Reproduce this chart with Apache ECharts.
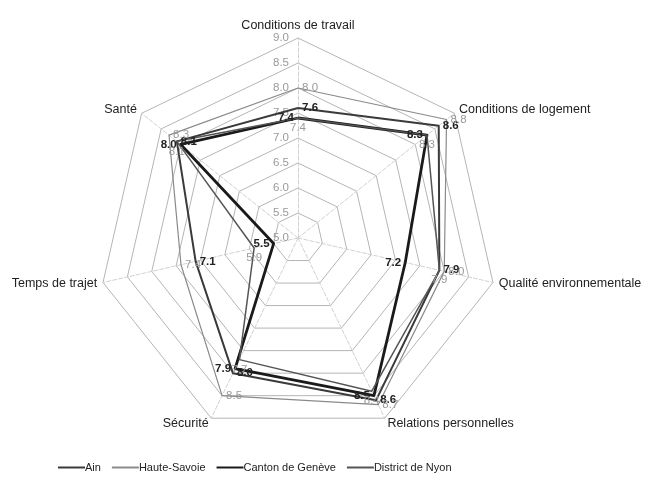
<!DOCTYPE html>
<html>
<head>
<meta charset="utf-8">
<script src="https://cdn.jsdelivr.net/npm/echarts@6/dist/echarts.min.js"></script>
<style>html,body{margin:0;padding:0;background:#fff}#c{width:653px;height:483px}</style>
</head>
<body>
<div id="c"></div>
<script>
const categories = ['Conditions de travail','Conditions de logement','Qualité environnementale','Relations personnelles','Sécurité','Temps de trajet','Santé'];
const seriesNames = ['Ain','Haute-Savoie','Canton de Genève','District de Nyon'];
const ain = [7.6, 8.6, 7.9, 8.6, 8.0, 7.1, 8.1];
const hauteSavoie = [8.0, 8.8, 8.0, 8.7, 8.5, 7.4, 8.3];
const geneve = [7.4, 8.3, 7.2, 8.5, 7.9, 5.5, 8.0];
const nyon = [7.4, 8.3, 7.9, 8.4, 7.7, 5.9, 8.1];
const axisMin = 5, axisMax = 9, splitNumber = 8;

// ECharts radar runs counter-clockwise; reorder so categories go clockwise from the top
const order = categories.map((_, i) => (categories.length - i) % categories.length);

const chart = echarts.init(document.getElementById('c'), null, {renderer: 'canvas'});
const indicator = order.map((k, i) => ({
  name: categories[k], min: axisMin, max: axisMax,
  axisLabel: {show: i === 0}
}));
const styles = [
  {color: '#3a3a3a', width: 2, label: '#222', pos: 'right'},
  {color: '#8a8a8a', width: 1.2, label: '#9a9a9a', pos: 'right'},
  {color: '#1a1a1a', width: 2.8, label: '#222', pos: 'left'},
  {color: '#555555', width: 1.5, label: '#9a9a9a', pos: 'bottom'}
];
const values = [ain, hauteSavoie, geneve, nyon];
chart.setOption({
  animation: false,
  textStyle: {fontFamily: 'Liberation Sans, Arial, sans-serif'},
  legend: {
    bottom: 5, left: 53,
    itemWidth: 27, itemHeight: 2, itemGap: 11,
    icon: 'rect',
    textStyle: {fontSize: 11, color: '#222', padding: [0,0,0,-5]},
    data: seriesNames.map((n, i) => ({name: n, itemStyle: {color: styles[i].color}}))
  },
  radar: {
    center: [298, 238], radius: 200,
    shape: 'polygon', splitNumber: splitNumber,
    startAngle: 90,
    indicator: indicator,
    axisName: {color: '#222', fontSize: 12.5},
    nameGap: 6,
    splitLine: {lineStyle: {color: '#b5b5b5', width: 1}},
    splitArea: {show: false},
    axisLine: {lineStyle: {color: '#d0d0d0', type: 'dashed'}},
    axisTick: {show: false},
    axisLabel: {show: false, color: '#9a9a9a', fontSize: 11.5, formatter: v => v.toFixed(1), margin: 9}
  },
  series: [{
    type: 'radar',
    symbol: 'circle',
    symbolSize: 0.1,
    data: values.map((arr, i) => ({
      name: seriesNames[i],
      value: order.map(k => arr[k]),
      lineStyle: {color: styles[i].color, width: styles[i].width},
      itemStyle: {color: styles[i].color},
      label: {show: true, color: styles[i].label, fontSize: 11.5, fontWeight: i % 2 === 0 ? 'bold' : 'normal',
        position: styles[i].pos, distance: 4, formatter: p => Number(p.value).toFixed(1)}
    }))
  }]
});
</script>
</body>
</html>
